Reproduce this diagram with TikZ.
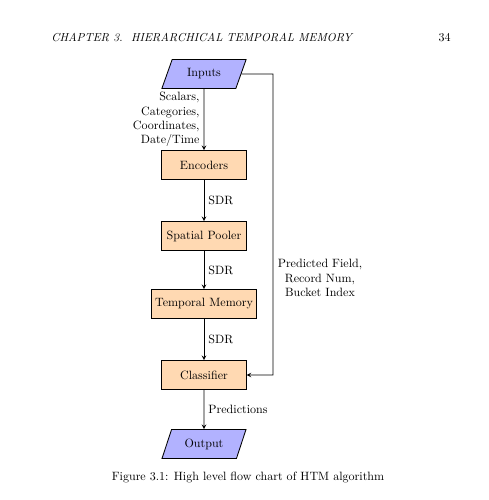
\documentclass[tikz,border=0pt]{standalone}
\usepackage{tikz}
\usetikzlibrary{shapes.geometric}

\begin{document}
\begin{tikzpicture}[x=0.83pt,y=-0.83pt,>=stealth,line width=0.7pt,
      io/.style={trapezium, trapezium left angle=70, trapezium right angle=110, trapezium stretches=true, draw, fill=blue!30, minimum width=70pt, minimum height=24pt},
      proc/.style={rectangle, draw, fill=orange!30, minimum width=70pt, minimum height=24pt}]
      \useasboundingbox (0,0) rectangle (489,500);
      \node[anchor=base west,scale=0.96] (head) at (47,41) {\itshape CHAPTER 3.\ \ HIERARCHICAL TEMPORAL MEMORY};
      \node[anchor=base east] (page) at (455,41) {34};
      \node[io] (in) at (204,74) {Inputs};
      \node[proc] (enc) at (204,165) {Encoders};
      \node[proc] (sp) at (204,236) {Spatial Pooler};
      \node[proc] (tm) at (204,304) {Temporal Memory};
      \node[proc] (cls) at (204,375) {Classifier};
      \node[io] (out) at (204,444) {Output};
      \coordinate (bend) at (273,74);
      \draw[->] (in) -- (enc) node[midway,left,align=right]{Scalars,\\Categories,\\Coordinates,\\Date/Time};
      \draw[->] (enc) -- (sp) node[midway,right]{SDR};
      \draw[->] (sp) -- (tm) node[midway,right]{SDR};
      \draw[->] (tm) -- (cls) node[midway,right]{SDR};
      \draw[->] (cls) -- (out) node[midway,right]{Predictions};
      \draw[->] (in.east) -- (bend) |- (cls.east);
      \node[align=center] (pred) at (320,278) {Predicted Field,\\Record Num,\\Bucket Index};
      \node[anchor=base] (cap) at (248,480) {Figure 3.1: High level flow chart of HTM algorithm};
\end{tikzpicture}
\end{document}
